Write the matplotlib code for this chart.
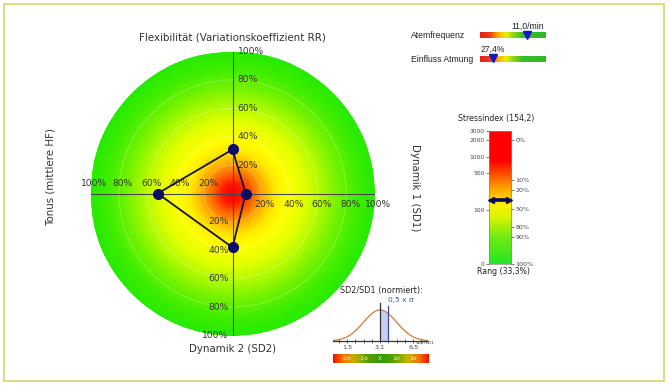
import numpy as np
import matplotlib
matplotlib.use('Agg')
import matplotlib.pyplot as plt
from matplotlib.colors import LinearSegmentedColormap
from matplotlib.patches import Rectangle

W, H = 670, 385

# ---------------- data ----------------
radar_names = ["Flexibilität (Variationskoeffizient RR)", "Dynamik 1 (SD1)",
               "Dynamik 2 (SD2)", "Tonus (mittlere HF)"]
radar_values = [31, 9.3, 38, 52.7]          # percent
radar_ticks = [20, 40, 60, 80, 100]

atem_label = "Atemfrequenz"
atem_value = 11.0
atem_text = "11,0/min"
atem_range = (0, 15.3)

einfluss_label = "Einfluss Atmung"
einfluss_value = 27.4
einfluss_text = "27,4%"
einfluss_range = (0, 144)

stress_value = 154.2
stress_title = "Stressindex (154,2)"
stress_rank_text = "Rang (33,3%)"
stress_ticks = [10, 100, 500, 1000, 2000, 3000]
stress_ticklabels = ["0", "100", "500", "1000", "2000", "3000"]
rank_tick_values = [2000, 366, 239, 106, 49, 32, 10]
rank_ticklabels = ["0%", "10%", "20%", "50%", "80%", "90%", "100%"]

sd_title = "SD2/SD1 (normiert):"
sd_shift = 0.5                       # in sigma
sd_shift_text = "0,5 x σ"
sd_tick_pos = [-2, 0, 2]
sd_ticklabels = ["1,5", "3,1", "6,5"]
sigma_pos = [-2, -1, 0, 1, 2]
sigma_labels = ["-2σ", "-1σ", "X\u0304", "1σ", "2σ"]

# ---------------- helpers ----------------
fig = plt.figure(figsize=(W / 100, H / 100), dpi=100)
fig.patch.set_facecolor('white')


def px(x0, y0, x1, y1):
    return [x0 / W, 1 - y1 / H, (x1 - x0) / W, (y1 - y0) / H]


def ftext(x, y, s, **kw):
    fig.text(x / W, 1 - y / H, s, **kw)


# frame
fig.patches.append(Rectangle((4 / W, 1 - 381 / H), 660 / W, 377 / H,
                             transform=fig.transFigure, fill=False,
                             edgecolor='#d3da78', lw=1.3))

# ---------------- radar ----------------
cmap_radar = LinearSegmentedColormap.from_list('radar', [
    (0.00, (1.00, 0.00, 0.00)),
    (0.07, (1.00, 0.10, 0.00)),
    (0.14, (1.00, 0.40, 0.00)),
    (0.22, (1.00, 0.70, 0.00)),
    (0.30, (1.00, 0.92, 0.00)),
    (0.38, (1.00, 1.00, 0.00)),
    (0.50, (0.90, 1.00, 0.00)),
    (0.62, (0.70, 0.98, 0.00)),
    (0.75, (0.45, 0.95, 0.00)),
    (0.88, (0.25, 0.93, 0.00)),
    (1.00, (0.15, 0.92, 0.00))])

ax = fig.add_axes(px(90.5, 51.5, 374.5, 335.5), projection='polar')
ax.set_theta_zero_location('N')
ax.set_theta_direction(-1)
th = np.linspace(0, 2 * np.pi, 181)
rr = np.linspace(0, 100, 101)
T, R = np.meshgrid(th, rr)
ax.pcolormesh(T, R, R, cmap=cmap_radar, vmin=0, vmax=100, shading='gouraud',
              rasterized=True)
ax.set_ylim(0, 100)
ax.grid(False)
ax.set_xticks([])
ax.set_yticks([])
ax.spines['polar'].set_visible(False)
ax.set_facecolor('none')

for t in radar_ticks[:-1]:
    ax.plot(th, np.full_like(th, t), color='white', alpha=0.22, lw=0.8)

angles = [0, np.pi / 2, np.pi, 3 * np.pi / 2]
for a in angles:
    ax.plot([a, a], [0, 100], color='#484848', lw=0.8)

tick_kw = dict(fontsize=6.6, color='#333333', textcoords='offset pixels',
               annotation_clip=False)
for t in radar_ticks:
    ax.annotate(f"{t}%", xy=(0, t), xytext=(5, 0), ha='left', va='center', **tick_kw)
    ax.annotate(f"{t}%", xy=(np.pi, t), xytext=(-4, 0), ha='right', va='center', **tick_kw)
    ax.annotate(f"{t}%", xy=(3 * np.pi / 2, t), xytext=(4, 10), ha='center', va='center', **tick_kw)
    ax.annotate(f"{t}%", xy=(np.pi / 2, t), xytext=(4, -11), ha='center', va='center', **tick_kw)

ax.plot(angles + [angles[0]], radar_values + [radar_values[0]],
        color='#141428', lw=1.3, zorder=5)
ax.plot(angles, radar_values, 'o', color='#0b0b6e', ms=7, zorder=6)

lab_kw = dict(fontsize=7.4, color='#333333', ha='center', va='center')
ftext(232.5, 37, radar_names[0], **lab_kw)
ftext(415, 188, radar_names[1], rotation=-90, **lab_kw)
ftext(232.5, 349.5, radar_names[2], **lab_kw)
ftext(51, 177, radar_names[3], rotation=90, **lab_kw)

# ---------------- small horizontal bars ----------------
cmap_hbar = LinearSegmentedColormap.from_list('hbar', [
    (0.00, '#e81c1c'), (0.15, '#ee3a1e'), (0.30, '#f8c000'), (0.40, '#e6ee00'),
    (0.50, '#96d414'), (0.65, '#36be2a'), (1.00, '#2eb82e')])


def hbar(box, value, vrange, text, label, label_y):
    a = fig.add_axes(px(*box))
    a.imshow(np.linspace(0, 1, 256)[None, :], aspect='auto', cmap=cmap_hbar,
             extent=[vrange[0], vrange[1], 0, 1])
    a.set_xlim(vrange)
    a.set_ylim(0, 1)
    a.plot([value], [0.55], marker='v', color='#1414c8', ms=5.5, clip_on=False)
    a.annotate(text, xy=(value, 1), xytext=(0, 1), textcoords='offset points',
               ha='center', va='bottom', fontsize=6.2, family='Liberation Sans',
               color='#222222', annotation_clip=False)
    a.axis('off')
    ftext(411, label_y, label, fontsize=6.2, family='Liberation Sans',
          color='#222222', ha='left', va='center')


hbar((480, 32, 546, 38.5), atem_value, atem_range, atem_text, atem_label, 35.5)
hbar((480, 55.5, 546, 62), einfluss_value, einfluss_range, einfluss_text,
     einfluss_label, 59)

# ---------------- stress index ----------------
cmap_stress = LinearSegmentedColormap.from_list('stress', [
    (0.00, '#22e622'), (0.20, '#72ea14'), (0.35, '#d8f400'), (0.45, '#fff000'),
    (0.58, '#ff9a00'), (0.70, '#ff3c00'), (0.78, '#ff0000'), (1.00, '#ff0000')])

sa = fig.add_axes(px(489, 131, 511, 264))
sa.set_yscale('log')
sa.set_ylim(10, 3000)
sa.set_xlim(0, 1)
sa.imshow(np.linspace(0, 1, 256)[:, None], aspect='auto', cmap=cmap_stress,
          origin='lower', extent=[0, 1, 0, 1], transform=sa.transAxes)
sa.set_xticks([])
sa.set_yticks(stress_ticks, stress_ticklabels)
sa.yaxis.set_minor_locator(matplotlib.ticker.NullLocator())
sa.tick_params(axis='y', labelsize=4.3, length=2, width=0.5, pad=1,
               colors='#444444')
for s in sa.spines.values():
    s.set_color('#8a8a8a')
    s.set_linewidth(0.5)
tw = sa.twinx()
tw.set_yscale('log')
tw.set_ylim(10, 3000)
tw.set_yticks(rank_tick_values, rank_ticklabels)
tw.yaxis.set_minor_locator(matplotlib.ticker.NullLocator())
tw.tick_params(axis='y', labelsize=4.6, length=2, width=0.5, pad=1,
               colors='#444444')
for s in tw.spines.values():
    s.set_visible(False)
ytr = sa.get_yaxis_transform()
sa.plot([0.12, 0.88], [stress_value, stress_value], color='#0a0a50', lw=2.6,
        transform=ytr, solid_capstyle='butt', zorder=5)
sa.plot([0.1], [stress_value], marker='<', color='#0a0a50', ms=5, transform=ytr,
        clip_on=False, zorder=6)
sa.plot([0.9], [stress_value], marker='>', color='#0a0a50', ms=5, transform=ytr,
        clip_on=False, zorder=6)
ftext(496, 118, stress_title, fontsize=5.6, color='#222222', ha='center', va='center')
ftext(503, 271, stress_rank_text, fontsize=5.6, color='#222222', ha='center', va='center')

# ---------------- SD2/SD1 normal curve ----------------
xl = (-2.85, 2.9)
na = fig.add_axes(px(333, 300, 428, 341))
na.set_xlim(xl)
na.set_ylim(0, 1.32)
xs = np.linspace(xl[0], xl[1], 300)
ys = np.exp(-xs ** 2 / 2)
sel = (xs >= 0) & (xs <= sd_shift)
na.fill_between(xs[sel], 0, ys[sel], color='#c9cdf4', lw=0)
na.plot(xs, ys, color='#d27a3c', lw=0.9)
na.plot([0, 0], [0, 1.22], color='#333333', lw=0.9)
na.plot([sd_shift, sd_shift], [0, 1.13], color='#3c48a0', lw=0.9)
for s in ['top', 'right', 'left']:
    na.spines[s].set_visible(False)
na.spines['bottom'].set_color('#333333')
na.spines['bottom'].set_linewidth(0.9)
na.set_yticks([])
na.set_xticks(sd_tick_pos, sd_ticklabels)
na.set_xticks([-2.5, -1.5, -1, -0.5, 0.5, 1, 1.5, 2.5], minor=True)
na.tick_params(axis='x', which='both', direction='inout', length=3, width=0.6,
               labelsize=4.6, colors='#444444', pad=1)
na.set_facecolor('none')
ftext(381.5, 291, sd_title, fontsize=5.9, color='#222222', ha='center', va='center')
ftext(401, 300, sd_shift_text, fontsize=5.4, color='#4050a0', ha='center', va='center')
ftext(425, 342.5, "SD2/SD1", fontsize=3.2, color='#444444', ha='center', va='center')

cmap_sig = LinearSegmentedColormap.from_list('sig', [
    (0.00, '#ee1100'), (0.10, '#f07000'), (0.22, '#c8b000'), (0.35, '#5aa000'),
    (0.50, '#2c9a10'), (0.65, '#5aa400'), (0.78, '#c8b400'), (0.90, '#f07000'),
    (1.00, '#ee1100')])
ca = fig.add_axes(px(333, 354, 428, 363))
ca.imshow(np.linspace(0, 1, 256)[None, :], aspect='auto', cmap=cmap_sig,
          extent=[xl[0], xl[1], 0, 1])
ca.set_xlim(xl)
ca.set_ylim(0, 1)
for p, l in zip(sigma_pos, sigma_labels):
    ca.text(p, 0.5, l, fontsize=4.3, color='#f6f0b8', ha='center', va='center')
ca.axis('off')

fig.savefig('out.png', dpi=100)
